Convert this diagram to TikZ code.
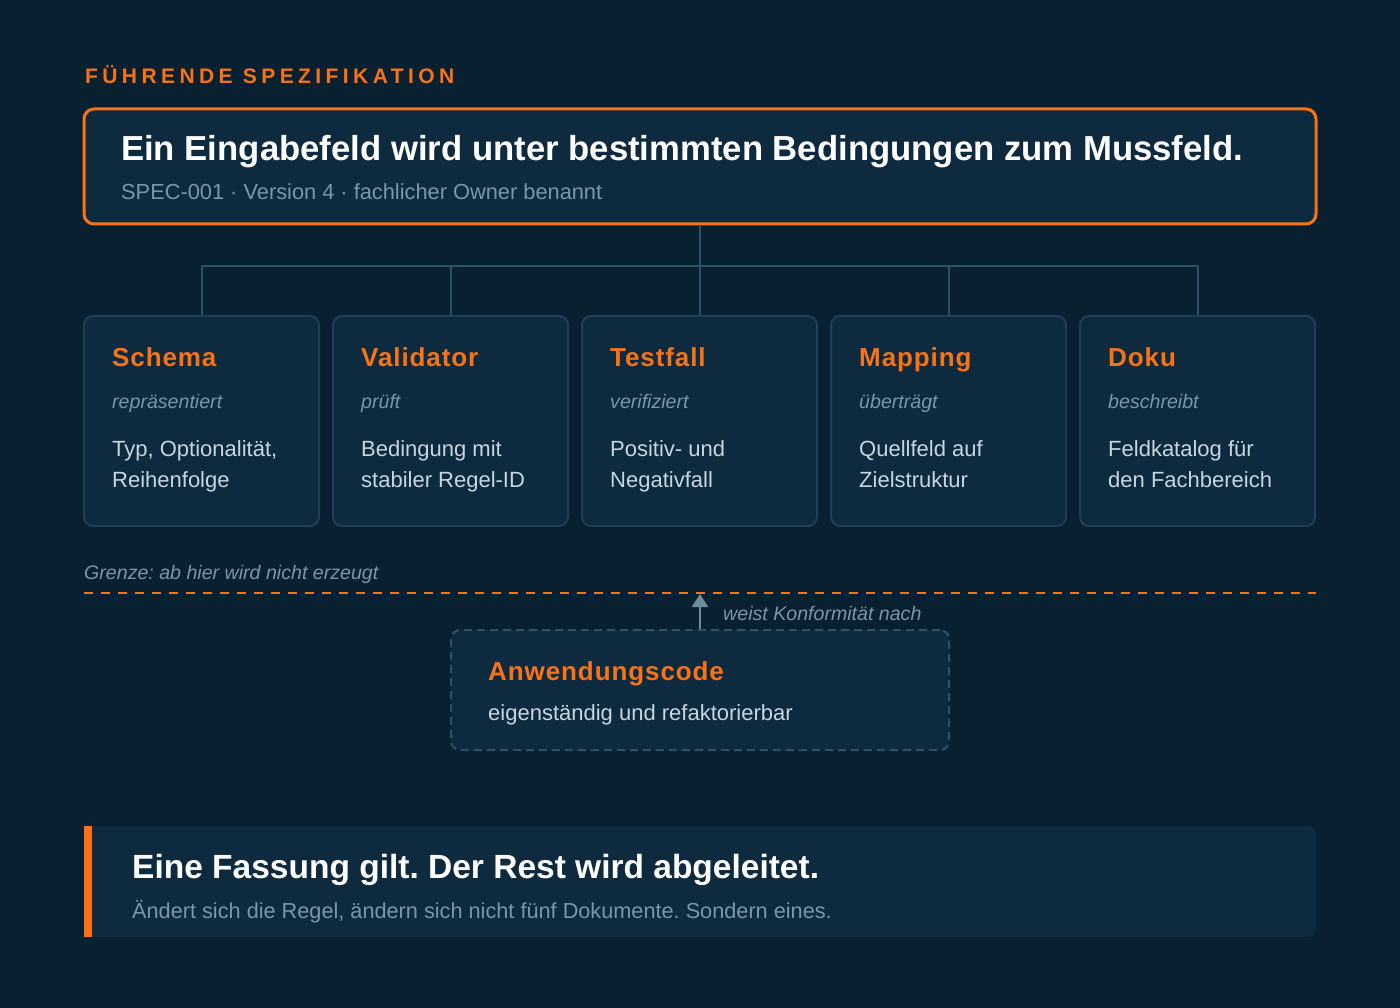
\documentclass[tikz,border=0pt]{standalone}
\usepackage{fontspec}
\setmainfont{Liberation Sans}
\newfontfamily\kickerfont[LetterSpace=21]{Liberation Sans}
\newfontfamily\cardfont[LetterSpace=3.5]{Liberation Sans}
\usetikzlibrary{calc,arrows.meta}
\definecolor{bg}{HTML}{082030}
\definecolor{panel}{HTML}{0E2A3E}
\definecolor{panelline}{HTML}{1F3F55}
\definecolor{treeline}{HTML}{2C5266}
\definecolor{accent}{HTML}{F97316}
\definecolor{muted}{HTML}{7B96A8}
\definecolor{arrowgray}{HTML}{6F8C9D}
\definecolor{bodytext}{HTML}{C8D5DF}
\frenchspacing
\tikzset{
    card/.style = {draw=panelline, fill=panel, line width=2pt, rectangle, rounded corners=9pt, minimum width=235pt, minimum height=210pt, inner sep=0pt},
    card-title/.style = {anchor=base west, inner sep=0pt, text=accent, font=\cardfont\bfseries\fontsize{26}{30}\selectfont},
    card-verb/.style = {anchor=base west, inner sep=0pt, text=muted, font=\itshape\fontsize{19.6}{23}\selectfont},
    card-body/.style = {anchor=base west, inner sep=0pt, text=bodytext, font=\fontsize{22}{26}\selectfont},
    tree/.style = {draw=treeline, line width=2pt},
}

\begin{document}
\begin{tikzpicture}[x=1pt, y=-1pt]
\fill[bg] (0,0) rectangle (1400,1008);
\useasboundingbox (0,0) rectangle (1400,1008);

% leading spec
\node[anchor=base west, inner sep=0pt, text=accent, font=\kickerfont\bfseries\fontsize{21}{25}\selectfont] (kicker) at (85,84) {FÜHRENDE SPEZIFIKATION};
\node[draw=accent, fill=panel, line width=3pt, rounded corners=10pt, minimum width=1232pt, minimum height=115pt, inner sep=0pt] (spec) at (700,166.5) {};
\node[anchor=base west, inner sep=0pt, text=white, font=\bfseries\fontsize{34.7}{40}\selectfont] (spec-title) at (121,161) {Ein Eingabefeld wird unter bestimmten Bedingungen zum Mussfeld.};
\node[anchor=base west, inner sep=0pt, text=muted, font=\fontsize{21.8}{26}\selectfont] (spec-meta) at (121,200) {SPEC-001 · Version 4 · fachlicher Owner benannt};

% derived artefacts
\coordinate (bus) at (700,266);
\foreach \name/\x/\title/\verb/\lineA/\lineB in {
    schema/201.5/Schema/repräsentiert/{Typ, Optionalität,}/Reihenfolge,
    validator/450.5/Validator/prüft/Bedingung mit/stabiler Regel-ID,
    testfall/699.5/Testfall/verifiziert/Positiv- und/Negativfall,
    mapping/948.5/Mapping/überträgt/Quellfeld auf/Zielstruktur,
    doku/1197.5/Doku/beschreibt/Feldkatalog für/den Fachbereich}{
    \node[card] (\name) at (\x,421) {};
    \node[card-title] (\name-title) at ($(\name.north west)+(29,51)$) {\title};
    \node[card-verb] (\name-verb) at ($(\name.north west)+(29,93)$) {\verb};
    \node[card-body] (\name-a) at ($(\name.north west)+(29,141)$) {\lineA};
    \node[card-body] (\name-b) at ($(\name.north west)+(29,172)$) {\lineB};
    \draw[tree] (\name.north |- bus) -- (\name.north);
}
\draw[tree] (spec.south) -- (bus);
\draw[tree] (schema.north |- bus) -- (doku.north |- bus);

% boundary
\node[card-verb] (grenze) at (84,579) {Grenze: ab hier wird nicht erzeugt};
\coordinate (grenze-l) at (84,593);
\coordinate (grenze-r) at (1316,593);
\draw[accent, line width=2pt, dash pattern=on 9pt off 8pt] (grenze-l) -- (grenze-r);

% application code
\node[draw=treeline, fill=panel, line width=2pt, dash pattern=on 8pt off 5pt, rounded corners=9pt, minimum width=498pt, minimum height=120pt, inner sep=0pt] (code) at (700,690) {};
\node[card-title] (code-title) at (488,680) {Anwendungscode};
\node[card-body] (code-body) at (488,720) {eigenständig und refaktorierbar};
\coordinate (grenze-hit) at (700,594);
\draw[arrowgray, line width=2.5pt, -{Triangle[width=16pt,length=13pt]}] (code.north) -- (grenze-hit);
\node[card-verb] (code-note) at (723,620) {weist Konformität nach};

% summary
\node[fill=panel, rounded corners=8pt, minimum width=1232pt, minimum height=111pt, inner sep=0pt] (summary) at (700,881.5) {};
\fill[accent] (summary.north west) rectangle ($(summary.south west)+(8,0)$);
\node[anchor=base west, inner sep=0pt, text=white, font=\bfseries\fontsize{33.5}{38}\selectfont] (summary-title) at (132,878) {Eine Fassung gilt. Der Rest wird abgeleitet.};
\node[anchor=base west, inner sep=0pt, text=muted, font=\fontsize{21.7}{26}\selectfont] (summary-text) at (132,918) {Ändert sich die Regel, ändern sich nicht fünf Dokumente. Sondern eines.};
\end{tikzpicture}
\end{document}
